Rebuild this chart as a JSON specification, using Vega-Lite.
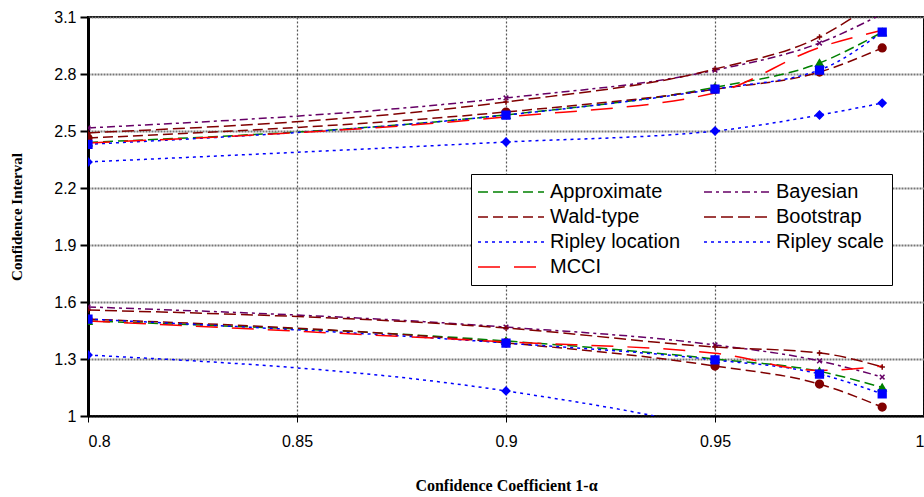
{
  "$schema": "https://vega.github.io/schema/vega-lite/v6.json",
  "width": 836,
  "height": 399,
  "autosize": {"type": "none"},
  "padding": {"left": 88, "top": 17, "right": 0, "bottom": 81},
  "background": "white",
  "data": {"values": [
    {"s": "Approximate", "b": "U", "x": 0.8, "y": 2.44},
    {"s": "Approximate", "b": "U", "x": 0.9, "y": 2.585},
    {"s": "Approximate", "b": "U", "x": 0.95, "y": 2.73},
    {"s": "Approximate", "b": "U", "x": 0.975, "y": 2.858},
    {"s": "Approximate", "b": "U", "x": 0.99, "y": 3.02},
    {"s": "Bayesian", "b": "U", "x": 0.8, "y": 2.516},
    {"s": "Bayesian", "b": "U", "x": 0.9, "y": 2.674},
    {"s": "Bayesian", "b": "U", "x": 0.95, "y": 2.82},
    {"s": "Bayesian", "b": "U", "x": 0.975, "y": 2.963},
    {"s": "Bayesian", "b": "U", "x": 0.99, "y": 3.116},
    {"s": "Wald-type", "b": "U", "x": 0.8, "y": 2.463},
    {"s": "Wald-type", "b": "U", "x": 0.9, "y": 2.6},
    {"s": "Wald-type", "b": "U", "x": 0.95, "y": 2.72},
    {"s": "Wald-type", "b": "U", "x": 0.975, "y": 2.81},
    {"s": "Wald-type", "b": "U", "x": 0.99, "y": 2.937},
    {"s": "Bootstrap", "b": "U", "x": 0.8, "y": 2.49},
    {"s": "Bootstrap", "b": "U", "x": 0.9, "y": 2.653},
    {"s": "Bootstrap", "b": "U", "x": 0.95, "y": 2.826},
    {"s": "Bootstrap", "b": "U", "x": 0.975, "y": 2.995},
    {"s": "Bootstrap", "b": "U", "x": 0.99, "y": 3.2},
    {"s": "Ripley location", "b": "U", "x": 0.8, "y": 2.337},
    {"s": "Ripley location", "b": "U", "x": 0.9, "y": 2.442},
    {"s": "Ripley location", "b": "U", "x": 0.95, "y": 2.5},
    {"s": "Ripley location", "b": "U", "x": 0.975, "y": 2.584},
    {"s": "Ripley location", "b": "U", "x": 0.99, "y": 2.647},
    {"s": "Ripley scale", "b": "U", "x": 0.8, "y": 2.43},
    {"s": "Ripley scale", "b": "U", "x": 0.9, "y": 2.584},
    {"s": "Ripley scale", "b": "U", "x": 0.95, "y": 2.721},
    {"s": "Ripley scale", "b": "U", "x": 0.975, "y": 2.821},
    {"s": "Ripley scale", "b": "U", "x": 0.99, "y": 3.021},
    {"s": "MCCI", "b": "U", "x": 0.8, "y": 2.437},
    {"s": "MCCI", "b": "U", "x": 0.9, "y": 2.574},
    {"s": "MCCI", "b": "U", "x": 0.95, "y": 2.7},
    {"s": "MCCI", "b": "U", "x": 0.975, "y": 2.94},
    {"s": "MCCI", "b": "U", "x": 0.99, "y": 3.03},
    {"s": "Approximate", "b": "L", "x": 0.8, "y": 1.5},
    {"s": "Approximate", "b": "L", "x": 0.9, "y": 1.395},
    {"s": "Approximate", "b": "L", "x": 0.95, "y": 1.3},
    {"s": "Approximate", "b": "L", "x": 0.975, "y": 1.235},
    {"s": "Approximate", "b": "L", "x": 0.99, "y": 1.15},
    {"s": "Bayesian", "b": "L", "x": 0.8, "y": 1.574},
    {"s": "Bayesian", "b": "L", "x": 0.9, "y": 1.468},
    {"s": "Bayesian", "b": "L", "x": 0.95, "y": 1.374},
    {"s": "Bayesian", "b": "L", "x": 0.975, "y": 1.29},
    {"s": "Bayesian", "b": "L", "x": 0.99, "y": 1.205},
    {"s": "Wald-type", "b": "L", "x": 0.8, "y": 1.51},
    {"s": "Wald-type", "b": "L", "x": 0.9, "y": 1.385},
    {"s": "Wald-type", "b": "L", "x": 0.95, "y": 1.263},
    {"s": "Wald-type", "b": "L", "x": 0.975, "y": 1.168},
    {"s": "Wald-type", "b": "L", "x": 0.99, "y": 1.047},
    {"s": "Bootstrap", "b": "L", "x": 0.8, "y": 1.558},
    {"s": "Bootstrap", "b": "L", "x": 0.9, "y": 1.463},
    {"s": "Bootstrap", "b": "L", "x": 0.95, "y": 1.363},
    {"s": "Bootstrap", "b": "L", "x": 0.975, "y": 1.332},
    {"s": "Bootstrap", "b": "L", "x": 0.99, "y": 1.258},
    {"s": "Ripley location", "b": "L", "x": 0.8, "y": 1.321},
    {"s": "Ripley location", "b": "L", "x": 0.9, "y": 1.132},
    {"s": "Ripley location", "b": "L", "x": 0.95, "y": 0.93},
    {"s": "Ripley location", "b": "L", "x": 0.975, "y": 0.78},
    {"s": "Ripley location", "b": "L", "x": 0.99, "y": 0.66},
    {"s": "Ripley scale", "b": "L", "x": 0.8, "y": 1.51},
    {"s": "Ripley scale", "b": "L", "x": 0.9, "y": 1.384},
    {"s": "Ripley scale", "b": "L", "x": 0.95, "y": 1.295},
    {"s": "Ripley scale", "b": "L", "x": 0.975, "y": 1.221},
    {"s": "Ripley scale", "b": "L", "x": 0.99, "y": 1.116},
    {"s": "MCCI", "b": "L", "x": 0.8, "y": 1.5},
    {"s": "MCCI", "b": "L", "x": 0.9, "y": 1.39},
    {"s": "MCCI", "b": "L", "x": 0.95, "y": 1.33},
    {"s": "MCCI", "b": "L", "x": 0.975, "y": 1.24},
    {"s": "MCCI", "b": "L", "x": 0.99, "y": 1.263}
  ]},
  "encoding": {
    "x": {
      "field": "x", "type": "quantitative",
      "scale": {"domain": [0.8, 1], "nice": false, "zero": false},
      "axis": {
        "values": [0.8, 0.85, 0.9, 0.95, 1],
        "format": ".2~f",
        "title": "Confidence Coefficient 1-α",
        "titleFont": "Liberation Serif", "titleFontSize": 16, "titleFontWeight": "bold",
        "titlePadding": 28,
        "labelFont": "Liberation Sans", "labelFontSize": 16, "labelColor": "black",
        "labelPadding": 11,
        "grid": true, "gridColor": "#555", "gridDash": [2, 2], "gridWidth": 1.2,
        "domainColor": "black", "domainWidth": 2, "tickColor": "black", "tickSize": 6
      }
    },
    "y": {
      "field": "y", "type": "quantitative",
      "scale": {"domain": [1, 3.1], "nice": false, "zero": false},
      "axis": {
        "values": [1, 1.3, 1.6, 1.9, 2.2, 2.5, 2.8, 3.1],
        "format": ".1~f",
        "title": "Confidence Interval",
        "titleFont": "Liberation Serif", "titleFontSize": 15, "titleFontWeight": "bold",
        "titlePadding": 29,
        "labelFont": "Liberation Sans", "labelFontSize": 16, "labelColor": "black",
        "labelPadding": 4,
        "grid": true, "gridColor": "#777", "gridDash": [2, 1], "gridWidth": 2,
        "domainColor": "black", "domainWidth": 3, "tickColor": "black", "tickSize": 8, "tickWidth": 2
      }
    }
  },
  "layer": [
    {
      "mark": {"type": "line", "interpolate": "monotone", "clip": true},
      "encoding": {
        "detail": {"field": "b"},
        "color": {
          "field": "s", "type": "nominal",
          "scale": {
            "domain": ["Approximate", "Wald-type", "Ripley location", "MCCI", "Bayesian", "Bootstrap", "Ripley scale"],
            "range": ["#008000", "#800000", "#0000FF", "#FF0000", "#660066", "#800000", "#0000FF"]
          },
          "legend": {
            "title": null, "orient": "none", "legendX": 383, "legendY": 157,
            "columns": 2, "columnPadding": 20, "rowPadding": 5,
            "symbolType": "M-6.6,0L6.6,0", "symbolSize": 100, "symbolOffset": 22,
            "labelFont": "Liberation Sans", "labelFontSize": 20, "labelColor": "black", "labelOffset": 29,
            "strokeColor": "black", "fillColor": "white", "padding": 8,
            "labelLimit": 200
          }
        },
        "strokeDash": {
          "field": "s", "type": "nominal",
          "scale": {
            "domain": ["Approximate", "Wald-type", "Ripley location", "MCCI", "Bayesian", "Bootstrap", "Ripley scale"],
            "range": [[10, 5], [10, 5], [3, 4], [22, 14], [8, 4, 3, 4], [12, 5], [3, 4]]
          },
          "legend": {
            "title": null, "orient": "none", "legendX": 383, "legendY": 157,
            "columns": 2, "columnPadding": 20, "rowPadding": 5,
            "symbolType": "M-6.6,0L6.6,0", "symbolSize": 100, "symbolOffset": 22,
            "labelFont": "Liberation Sans", "labelFontSize": 20, "labelColor": "black", "labelOffset": 29,
            "strokeColor": "black", "fillColor": "white", "padding": 8,
            "labelLimit": 200
          }
        },
        "strokeWidth": {
          "field": "s", "type": "nominal",
          "scale": {
            "domain": ["Approximate", "Wald-type", "Ripley location", "MCCI", "Bayesian", "Bootstrap", "Ripley scale"],
            "range": [1.5, 1.5, 1.8, 4, 1.5, 1.5, 1.8]
          },
          "legend": {
            "title": null, "orient": "none", "legendX": 383, "legendY": 157,
            "columns": 2, "columnPadding": 20, "rowPadding": 5,
            "symbolType": "M-6.6,0L6.6,0", "symbolSize": 100, "symbolOffset": 22,
            "labelFont": "Liberation Sans", "labelFontSize": 20, "labelColor": "black", "labelOffset": 29,
            "strokeColor": "black", "fillColor": "white", "padding": 8,
            "labelLimit": 200
          }
        }
      }
    },
    {
      "transform": [{"filter": "datum.s !== 'MCCI'"}],
      "mark": {"type": "point", "filled": true, "size": 60, "strokeWidth": 1.5, "clip": true, "opacity": 1},
      "encoding": {
        "color": {"field": "s", "type": "nominal", "legend": null},
        "stroke": {
          "field": "s", "type": "nominal",
          "scale": {
            "domain": ["Approximate", "Bayesian", "Wald-type", "Bootstrap", "Ripley location", "Ripley scale"],
            "range": ["#008000", "#660066", "#800000", "#800000", "#0000FF", "#0000FF"]
          },
          "legend": null
        },
        "shape": {
          "field": "s", "type": "nominal",
          "scale": {
            "domain": ["Approximate", "Bayesian", "Wald-type", "Bootstrap", "Ripley location", "Ripley scale"],
            "range": ["triangle-up", "M-0.6,-0.6L0.6,0.6M-0.6,0.6L0.6,-0.6", "circle", "M-0.7,0L0.7,0M0,-0.7L0,0.7", "diamond", "square"]
          },
          "legend": null
        }
      }
    }
  ],
  "config": {
    "view": {"stroke": "black", "strokeWidth": 2}
  }
}
